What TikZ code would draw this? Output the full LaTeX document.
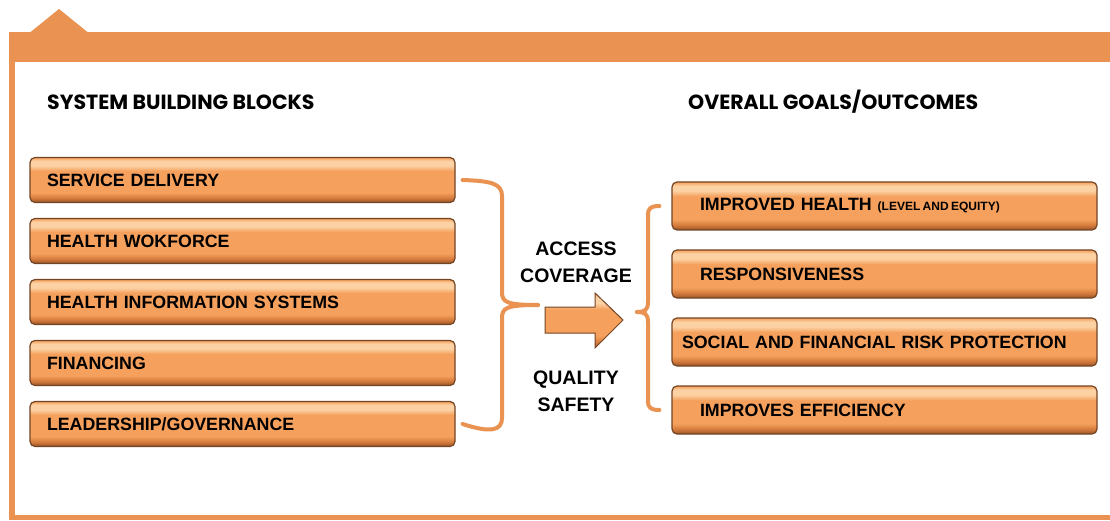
\documentclass[tikz,border=0pt]{standalone}
\usepackage{fontspec}
\setmainfont{Liberation Sans}
\newfontfamily\headfont{Poppins}
\usepackage{tikz}
\usetikzlibrary{positioning}

\definecolor{framecol}{RGB}{233,146,82}
\definecolor{boxtop}{RGB}{252,210,165}
\definecolor{boxmid}{RGB}{245,160,92}
\definecolor{boxlow}{RGB}{212,122,60}
\definecolor{boxbot}{RGB}{150,85,40}
\definecolor{boxedge}{RGB}{115,68,35}

% orange bar with a light top rim and a dark lower rim
\pgfdeclareverticalshading{barbevel}{100bp}{%
  color(0bp)=(boxbot); color(25bp)=(boxbot); color(30bp)=(boxlow);
  color(36bp)=(boxmid); color(60bp)=(boxmid); color(66bp)=(boxtop);
  color(71bp)=(boxtop); color(75bp)=(boxmid); color(100bp)=(boxmid)}

\begin{document}
\begin{tikzpicture}[x=1pt, y=-1pt,
    blockbox/.style={rectangle, rounded corners=5pt, draw=boxedge, line width=1.2pt,
        shading=barbevel,
        minimum width=425pt, inner xsep=17pt, text width=391pt, align=left,
        minimum height=45pt, font=\fontsize{17.8}{20}\selectfont\bfseries},
    goalbox/.style={blockbox, minimum height=48pt, inner xsep=28pt, text width=369pt},
    headtext/.style={anchor=west, inner sep=0pt, font=\headfont\fontsize{20.5}{24}\selectfont\bfseries},
    flowtext/.style={align=center, font=\fontsize{19.5}{27}\selectfont\bfseries},
    bracket/.style={draw=framecol, line width=4pt, line cap=round, line join=round}]

    \useasboundingbox (0,0) rectangle (1110,521);

    % outer frame with the tab on top
    \fill[framecol] (9,32) rectangle (1110,62);
    \fill[framecol] (9,32) rectangle (15,520);
    \fill[framecol] (9,515) rectangle (1110,520);
    \fill[framecol] (30,32.5) -- (59,9) -- (88,32.5) -- cycle;

    \node[headtext] (blockshead) at (47,102) {SYSTEM BUILDING BLOCKS};
    \node[headtext] (goalshead) at (688,102) {OVERALL GOALS/OUTCOMES};

    \node[blockbox] (sd) at (242.5,180) {SERVICE DELIVERY};
    \node[blockbox] (hw) [below=14.8pt of sd] {HEALTH WOKFORCE};
    \node[blockbox] (his) [below=14.8pt of hw] {HEALTH INFORMATION SYSTEMS};
    \node[blockbox] (fin) [below=14.8pt of his] {FINANCING};
    \node[blockbox] (lg) [below=14.8pt of fin] {LEADERSHIP/GOVERNANCE};

    \node[goalbox] (ih) at (884.5,206) {IMPROVED HEALTH {\fontsize{12}{14}\selectfont\spaceskip=0.2em (LEVEL AND EQUITY)}};
    \node[goalbox] (resp) [below=18.8pt of ih] {RESPONSIVENESS};
    \node[goalbox, inner xsep=10pt, text width=405pt] (sfrp) [below=18.8pt of resp] {SOCIAL AND FINANCIAL RISK PROTECTION};
    \node[goalbox] (ie) [below=18.8pt of sfrp] {IMPROVES EFFICIENCY};

    \node[flowtext] (access) at (576,262) {ACCESS\\COVERAGE};
    \node[flowtext] (quality) at (576,391) {QUALITY\\SAFETY};

    % brace gathering the building blocks
    \coordinate (lbtip) at (538,305);
    \draw[bracket] ([xshift=7pt]sd.east) .. controls (490,181) and (502,183) .. (502,196)
        -- (502,292) .. controls (502,302) and (506,305) .. (lbtip);
    \draw[bracket] ([xshift=7pt]lg.east) .. controls (490,433) and (502,431) .. (502,418)
        -- (502,318) .. controls (502,308) and (506,305) .. (lbtip);

    % bracket in front of the goals
    \coordinate (rbtip) at (637,312);
    \draw[bracket] ([xshift=-12pt]ih.west) .. controls (651,206) and (648,208) .. (648,215)
        -- (648,302) .. controls (648,310) and (645,312) .. (rbtip);
    \draw[bracket] ([xshift=-12pt]ie.west) .. controls (651,410) and (648,408) .. (648,401)
        -- (648,322) .. controls (648,314) and (645,312) .. (rbtip);

    % block arrow between the brackets
    \shade[shading=barbevel, draw=boxedge, line width=1pt]
        (545,307) -- (595,307) -- (595,293) -- (623,320) -- (595,348) -- (595,333) -- (545,333) -- cycle;

\end{tikzpicture}
\end{document}
